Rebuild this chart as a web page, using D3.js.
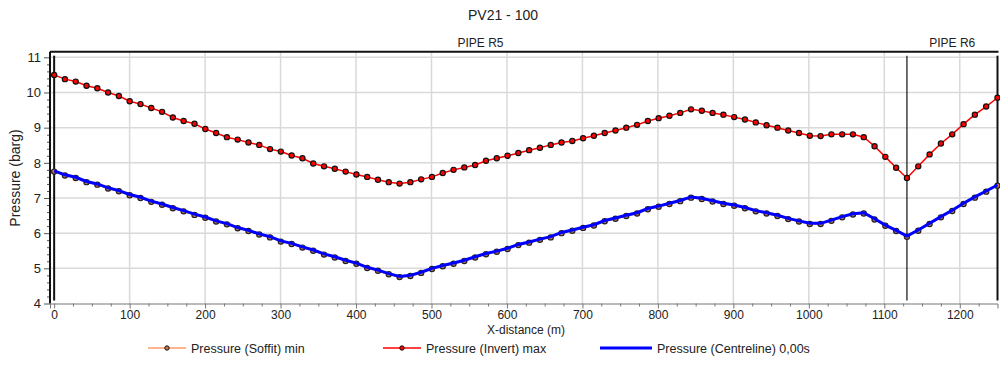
<!DOCTYPE html>
<html>
<head>
<meta charset="utf-8">
<script src="https://cdn.jsdelivr.net/npm/d3@7"></script>
<style>
  body { margin: 0; background: #fff; }
  text { font-family: "Liberation Sans", Arial, sans-serif; fill: #222; }
</style>
</head>
<body>
<div class="graphic"></div>
<script>
// x-distance of every node (m): pipe R5 then pipe R6
const xDist = [
  0, 14.3, 28.6, 42.9, 57.2, 71.5, 85.8, 100.1, 114.4, 128.7,
  143.0, 157.3, 171.6, 186.0, 200.3, 214.6, 228.9, 243.2, 257.5, 271.8,
  286.1, 300.4, 314.7, 329.0, 343.3, 357.6, 371.9, 386.2, 400.5, 414.8,
  429.1, 443.4, 457.7, 472.0, 486.3, 500.6, 514.9, 529.2, 543.5, 557.8,
  572.2, 586.5, 600.8, 615.1, 629.4, 643.7, 658.0, 672.3, 686.6, 700.9,
  715.2, 729.5, 743.8, 758.1, 772.4, 786.7, 801.0, 815.3, 829.6, 843.9,
  858.2, 872.5, 886.8, 901.1, 915.4, 929.7, 944.0, 958.4, 972.7, 987.0,
  1001.3, 1015.6, 1029.9, 1044.2, 1058.5, 1072.8, 1087.1, 1101.4, 1115.7, 1130.0,
  1145, 1160, 1175, 1190, 1205, 1220, 1235, 1250
]

const invertMax = [
  10.50, 10.38, 10.31, 10.19, 10.12, 10.00, 9.90, 9.75, 9.67, 9.56,
  9.45, 9.29, 9.19, 9.11, 8.96, 8.85, 8.73, 8.66, 8.58, 8.51,
  8.39, 8.32, 8.21, 8.13, 7.98, 7.90, 7.83, 7.75, 7.67, 7.60,
  7.52, 7.45, 7.41, 7.45, 7.53, 7.60, 7.71, 7.80, 7.87, 7.94,
  8.06, 8.13, 8.20, 8.28, 8.36, 8.43, 8.51, 8.58, 8.62, 8.70,
  8.77, 8.85, 8.92, 9.00, 9.08, 9.19, 9.27, 9.34, 9.42, 9.52,
  9.48, 9.42, 9.37, 9.30, 9.23, 9.15, 9.07, 9.00, 8.92, 8.85,
  8.77, 8.76, 8.81, 8.81, 8.81, 8.73, 8.47, 8.17, 7.86, 7.57,
  7.90, 8.24, 8.55, 8.81, 9.10, 9.37, 9.60, 9.85
]

const soffitMin = [
  7.75, 7.64, 7.57, 7.45, 7.38, 7.27, 7.19, 7.08, 7.00, 6.89,
  6.81, 6.71, 6.62, 6.52, 6.44, 6.33, 6.25, 6.14, 6.06, 5.96,
  5.88, 5.76, 5.69, 5.59, 5.50, 5.39, 5.31, 5.21, 5.13, 5.01,
  4.93, 4.83, 4.75, 4.78, 4.87, 4.98, 5.06, 5.13, 5.21, 5.31,
  5.40, 5.47, 5.55, 5.66, 5.73, 5.81, 5.88, 6.00, 6.07, 6.15,
  6.22, 6.34, 6.41, 6.49, 6.56, 6.68, 6.75, 6.83, 6.91, 7.01,
  6.97, 6.90, 6.83, 6.78, 6.71, 6.62, 6.56, 6.49, 6.40, 6.33,
  6.26, 6.26, 6.35, 6.45, 6.53, 6.56, 6.39, 6.21, 6.06, 5.90,
  6.07, 6.26, 6.45, 6.63, 6.83, 7.01, 7.18, 7.35
]

const centreline = [
  7.77, 7.66, 7.59, 7.47, 7.40, 7.29, 7.21, 7.10, 7.02, 6.91,
  6.83, 6.73, 6.64, 6.54, 6.46, 6.35, 6.27, 6.16, 6.08, 5.98,
  5.90, 5.78, 5.71, 5.61, 5.52, 5.41, 5.33, 5.23, 5.15, 5.03,
  4.95, 4.85, 4.77, 4.80, 4.89, 5.00, 5.08, 5.15, 5.23, 5.33,
  5.42, 5.49, 5.57, 5.68, 5.75, 5.83, 5.90, 6.02, 6.09, 6.17,
  6.24, 6.36, 6.43, 6.51, 6.58, 6.70, 6.77, 6.85, 6.93, 7.03,
  6.99, 6.92, 6.85, 6.80, 6.73, 6.64, 6.58, 6.51, 6.42, 6.35,
  6.28, 6.28, 6.37, 6.47, 6.55, 6.58, 6.41, 6.23, 6.08, 5.92,
  6.09, 6.28, 6.47, 6.65, 6.85, 7.03, 7.20, 7.37
]

const xTicks = [0, 100, 200, 300, 400, 500, 600, 700, 800, 900, 1000, 1100, 1200]
const yTicks = [4, 5, 6, 7, 8, 9, 10, 11]
const pipeBounds = [0, 1130, 1250]
const pipeNames = ["PIPE R5", "PIPE R6"]
const legendNames = ["Pressure (Soffit) min", "Pressure (Invert) max", "Pressure (Centreline) 0,00s"]

const W = 1000, H = 383

const svg = d3.select(".graphic")
  .append("svg")
  .attr("width", W)
  .attr("height", H)

const x = d3.scaleLinear().domain([-5.5, 1250]).range([50, 997.5])
const y = d3.scaleLinear().domain([4, 11.16]).range([303.5, 51.7])

// grid
svg.append("g")
  .selectAll("line")
  .data(xTicks.filter(d => d > 0))
  .join("line")
    .attr("x1", d => x(d)).attr("x2", d => x(d))
    .attr("y1", y(11.16)).attr("y2", y(4))
    .attr("stroke", "#d9d9d9").attr("stroke-width", 1.5)

svg.append("g")
  .selectAll("line")
  .data(yTicks.filter(d => d > 4))
  .join("line")
    .attr("x1", x(-5.5)).attr("x2", x(1250))
    .attr("y1", d => y(d)).attr("y2", d => y(d))
    .attr("stroke", "#d9d9d9").attr("stroke-width", 1.5)

// x axis
const xAxis = svg.append("g")
  .attr("transform", `translate(0,${y(4)})`)
  .call(d3.axisBottom(x).tickValues(xTicks).tickSize(5).tickPadding(2).tickFormat(d3.format("d")))
xAxis.select(".domain").attr("stroke", "#777")
xAxis.selectAll(".tick line").attr("stroke", "#777")
xAxis.selectAll("text").attr("font-size", 12).attr("font-family", "Liberation Sans, Arial, sans-serif").attr("fill", "#222")

svg.append("g")
  .attr("transform", `translate(0,${y(4)})`)
  .call(d3.axisBottom(x).tickValues(d3.range(25, 1250, 25).filter(d => d % 100 !== 0)).tickSize(3).tickFormat(""))
  .call(g => g.select(".domain").remove())
  .selectAll(".tick line").attr("stroke", "#777")

// y axis
const yAxis = svg.append("g")
  .attr("transform", `translate(50,0)`)
  .call(d3.axisLeft(y).tickValues(yTicks).tickSize(6).tickPadding(3).tickFormat(d3.format("d")))
yAxis.select(".domain").remove()
yAxis.selectAll(".tick line").attr("stroke", "#555")
yAxis.selectAll("text").attr("font-size", 13).attr("font-family", "Liberation Sans, Arial, sans-serif").attr("fill", "#222")

svg.append("g")
  .attr("transform", `translate(50,0)`)
  .call(d3.axisLeft(y).tickValues(d3.range(4.2, 11.1, 0.2).filter(d => Math.abs(d - Math.round(d)) > 0.01)).tickSize(3).tickFormat(""))
  .call(g => g.select(".domain").remove())
  .selectAll(".tick line").attr("stroke", "#555")

// frame: left axis line and top line
svg.append("line")
  .attr("x1", 50).attr("x2", 50).attr("y1", y(11.16)).attr("y2", y(4))
  .attr("stroke", "#111").attr("stroke-width", 2)
svg.append("line")
  .attr("x1", 50).attr("x2", x(1250) + 1).attr("y1", y(11.16)).attr("y2", y(11.16))
  .attr("stroke", "#111").attr("stroke-width", 2)

// pipe boundaries
svg.append("g")
  .selectAll("line")
  .data(pipeBounds)
  .join("line")
    .attr("x1", d => x(d)).attr("x2", d => x(d))
    .attr("y1", y(11.16) + 4).attr("y2", y(4) - 3)
    .attr("stroke", "#111")
    .attr("stroke-width", (d, i) => i === 1 ? 1.2 : 2)

svg.append("g")
  .selectAll("text")
  .data(pipeNames)
  .join("text")
    .attr("x", (d, i) => (x(pipeBounds[i]) + x(pipeBounds[i + 1])) / 2)
    .attr("y", 47)
    .attr("text-anchor", "middle")
    .attr("font-size", 12)
    .text(d => d)

// series
const pts = v => xDist.map((d, i) => [x(d), y(v[i])])
const line = d3.line()

svg.append("path")
  .attr("d", line(pts(invertMax)))
  .attr("fill", "none").attr("stroke", "#ff0000").attr("stroke-width", 1.5)
svg.append("g")
  .selectAll("circle")
  .data(pts(invertMax))
  .join("circle")
    .attr("cx", d => d[0]).attr("cy", d => d[1]).attr("r", 2.6)
    .attr("fill", "#ff0000").attr("stroke", "#111").attr("stroke-width", 1.2)

svg.append("path")
  .attr("d", line(pts(soffitMin)))
  .attr("fill", "none").attr("stroke", "#ff9a6a").attr("stroke-width", 1.5)
svg.append("g")
  .selectAll("circle")
  .data(pts(soffitMin))
  .join("circle")
    .attr("cx", d => d[0]).attr("cy", d => d[1]).attr("r", 2.6)
    .attr("fill", "#c77a4a").attr("stroke", "#222").attr("stroke-width", 1.2)

svg.append("path")
  .attr("d", line(pts(centreline)))
  .attr("fill", "none").attr("stroke", "#0000ff").attr("stroke-width", 3)

// titles
svg.append("text")
  .attr("x", 503).attr("y", 20)
  .attr("text-anchor", "middle").attr("font-size", 14)
  .text("PV21 - 100")

svg.append("text")
  .attr("x", 526).attr("y", 334)
  .attr("text-anchor", "middle").attr("font-size", 12)
  .text("X-distance (m)")

svg.append("text")
  .attr("transform", "translate(20,178) rotate(-90)")
  .attr("text-anchor", "middle").attr("font-size", 14)
  .text("Pressure (barg)")

// legend
const legX = [148, 383, 600]
const legW = [38, 38, 52]
const legColors = ["#ff9a6a", "#ff0000", "#0000ff"]
const leg = svg.append("g")
  .selectAll("g")
  .data(legendNames)
  .join("g")
    .attr("transform", (d, i) => `translate(${legX[i]},348)`)

leg.append("line")
  .attr("x1", 0).attr("x2", (d, i) => legW[i]).attr("y1", 0).attr("y2", 0)
  .attr("stroke", (d, i) => legColors[i])
  .attr("stroke-width", (d, i) => i === 2 ? 3 : 1.5)
leg.filter((d, i) => i < 2)
  .append("circle")
    .attr("cx", 19).attr("cy", 0).attr("r", 2.2)
    .attr("fill", (d, i) => i === 0 ? "#c77a4a" : "#ff0000")
    .attr("stroke", "#111").attr("stroke-width", 1)
leg.append("text")
  .attr("x", (d, i) => legW[i] + 5).attr("y", 4.5)
  .attr("font-size", 12.5)
  .text(d => d)
</script>
</body>
</html>
